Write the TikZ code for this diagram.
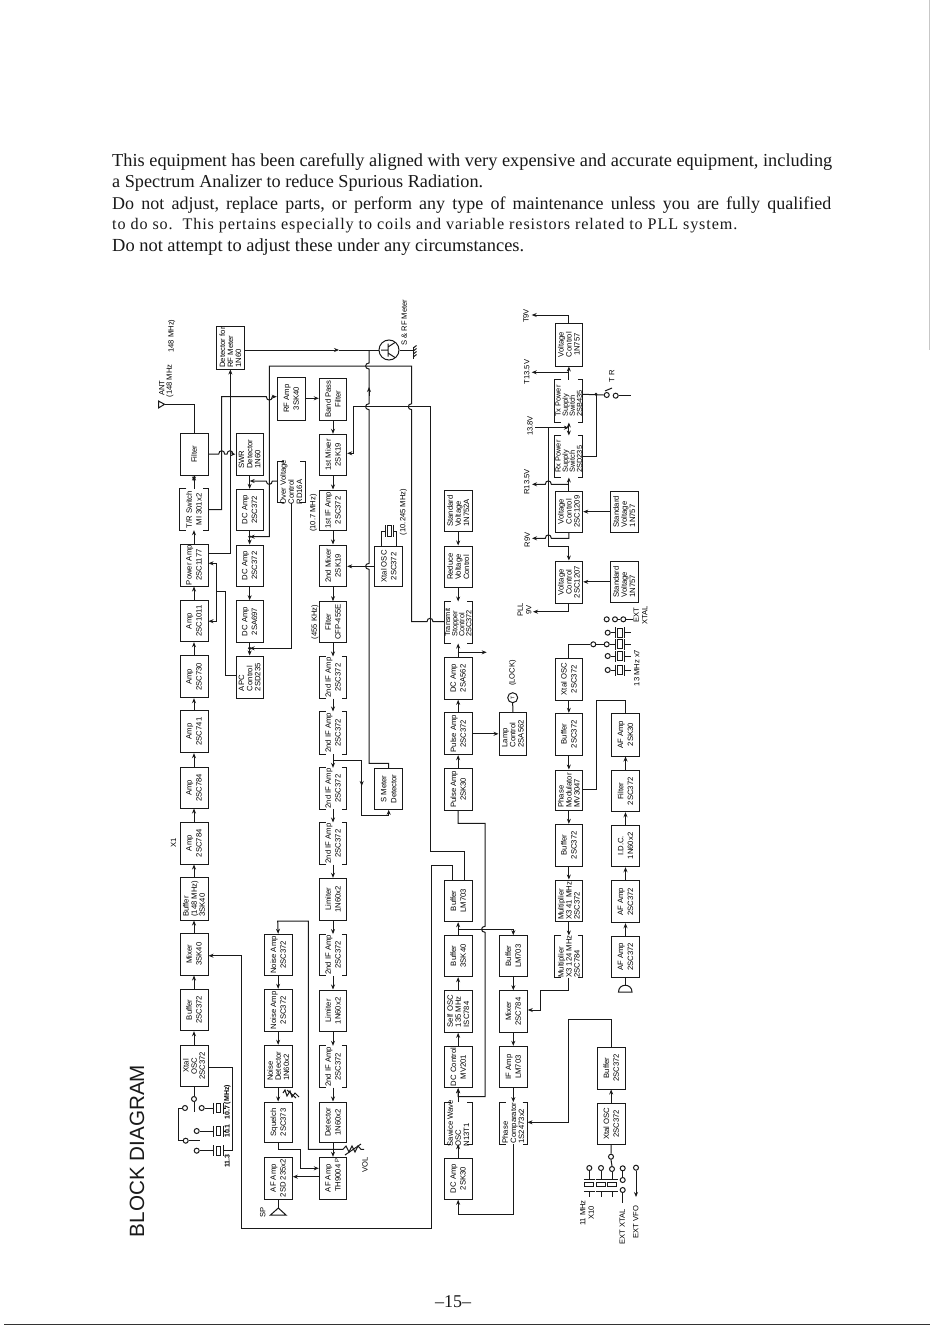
\documentclass[tikz,border=0pt]{standalone}
\usepackage{fontspec}
\usepackage{graphicx}
\setmainfont{Liberation Serif}
\newfontfamily\ars{Liberation Sans}
\usetikzlibrary{arrows.meta}
\tikzset{
  wire/.style={line width=1pt,draw=black!90},
  arr/.style={wire,-{Stealth[length=5pt,width=4pt]}},
  arrb/.style={wire,{Stealth[length=5pt,width=4pt]}-{Stealth[length=5pt,width=4pt]}},
  boxn/.style={draw=black!90,line width=1pt,inner sep=0pt},
  openn/.style={inner sep=0pt},
  boxt/.style={rotate=90,inner sep=0pt,align=center,text=black,font=\ars\fontsize{7.7}{9.8}\selectfont},
  th/.style={font=\ars\fontsize{7.7}{8.1}\selectfont},
  fo/.style={font=\ars\fontsize{7.4}{7.1}\selectfont},
  lbl/.style={rotate=90,inner sep=0pt,align=center,text=black,font=\ars\fontsize{7.6}{8.4}\selectfont},
  sw/.style={circle,draw=black!90,line width=1pt,fill=white,inner sep=0pt,minimum size=5pt},
  hdr/.style={anchor=west,inner sep=0pt,text=black!90},
}
% closed box: name, x0, x1, y0, y1, text
\newcommand{\bk}[7][]{%
  \node[boxn,minimum width={(#4-#3)*1pt},minimum height={(#6-#5)*1pt}] (#2) at ({(#3+#4)/2},{(#5+#6)/2}) {};
  \node[boxt,#1] (#2-t) at (#2.center) {#7};}
% box with gaps in its short edges
\newcommand{\ob}[7][]{%
  \node[openn,minimum width={(#4-#3)*1pt},minimum height={(#6-#5)*1pt}] (#2) at ({(#3+#4)/2},{(#5+#6)/2}) {};
  \draw[wire] ([xshift=6.5pt]#2.north west) -- (#2.north west) -- (#2.south west) -- ([xshift=6.5pt]#2.south west);
  \draw[wire] ([xshift=-5pt]#2.north east) -- (#2.north east) -- (#2.south east) -- ([xshift=-5pt]#2.south east);
  \node[boxt,#1] (#2-t) at (#2.center) {#7};}
% hops: x, y, signed half width, signed bulge
\newcommand{\hopH}[4]{-- ({#1-#3},#2) .. controls ({#1-#3},{#2+#4}) and ({#1+#3},{#2+#4}) .. ({#1+#3},#2) }
\newcommand{\hopV}[4]{-- (#1,{#2-#3}) .. controls ({#1+#4},{#2-#3}) and ({#1+#4},{#2+#3}) .. (#1,{#2+#3}) }
% crystal lying across a horizontal wire: circle, y, plate1, boxL, boxR, plate2, end
\newcommand{\xtH}[7]{%
  \draw[wire] (#1.east) -- (#3,#2) (#3,{#2-5.5}) -- (#3,{#2+5.5}) (#6,{#2-5.5}) -- (#6,{#2+5.5}) (#6,#2) -- (#7,#2);
  \draw[wire] (#4,{#2-4.5}) rectangle (#5,{#2+4.5});}
% crystal across a vertical wire: circle, x
\newcommand{\xtV}[2]{%
  \draw[wire] (#1.south) -- (#2,1179.3) ({#2-5.5},1179.3) -- ({#2+5.5},1179.3) ({#2-5.5},1191.7) -- ({#2+5.5},1191.7) (#2,1191.7) -- (#2,1196.7);
  \draw[wire] ({#2-4.5},1182.7) rectangle ({#2+4.5},1186.7);}
\begin{document}
\begin{tikzpicture}[x=1pt,y=-1pt]
\useasboundingbox (0,0) rectangle (950,1329);
\fill[white] (0,0) rectangle (950,1329);
% page edges
\coordinate (re0) at (929,0);
\coordinate (re1) at (929,350);
\draw[black!22,line width=0.7pt] (re0) -- (re1);
\coordinate (be0) at (4,1324.5);
\coordinate (be1) at (930,1324.5);
\draw[black!80,line width=1.1pt] (be0) -- (be1);
% header
\node[hdr] (h1) at (112,162.5) {\resizebox{720pt}{!}{\fontsize{17}{20}\selectfont This equipment has been carefully aligned with very expensive and accurate equipment, including}};
\node[hdr] (h2) at (112,183.5) {\resizebox{371pt}{!}{\fontsize{17}{20}\selectfont a Spectrum Analizer to reduce Spurious Radiation.}};
\node[hdr] (h3) at (112,205.5) {\resizebox{719pt}{!}{\fontsize{16.5}{20}\selectfont\spaceskip=6.6pt Do not adjust, replace parts, or perform any type of maintenance unless you are fully qualified}};
\node[hdr] (h4) at (112,225.5) {\resizebox{625pt}{!}{\fontsize{14}{20}\selectfont\addfontfeature{LetterSpace=5.5} to do so.\ \ This pertains especially to coils and variable resistors related to PLL system.}};
\node[hdr] (h5) at (112,247.5) {\resizebox{412pt}{!}{\fontsize{17}{20}\selectfont Do not attempt to adjust these under any circumstances.}};
\node[rotate=90,inner sep=0pt,text=black!90] (title) at (137,1151) {\resizebox{172pt}{!}{\ars\fontsize{20.5}{22}\selectfont BLOCK DIAGRAM}};
\node[inner sep=0pt,text=black!90] (pg) at (453,1302) {\fontsize{18}{20}\selectfont --15--};
% column A
\bk[align=left,th]{det}{216.7}{244}{326}{369}{Detector for\\RF Meter\\1N60}
\bk{filt}{180}{208}{433.3}{475}{Filter}
\ob{tr}{180}{208}{489}{530}{T/R Switch\\MI 301x2}
\bk{pwr}{180}{208}{544.3}{586}{Power Amp\\2SC1177}
\bk{a1011}{180}{208}{600.7}{641.7}{Amp\\2SC1011}
\bk{a730}{180}{208}{655.7}{697.7}{Amp\\2SC730}
\bk{a741}{180}{208}{710.3}{752.7}{Amp\\2SC741}
\bk{a784a}{180}{208}{767.3}{808}{Amp\\2SC784}
\bk{a784b}{180}{208}{822.3}{864}{Amp\\2SC784}
\bk[align=left,th]{buf148}{180}{208}{877.7}{920}{Buffer\\(148 MHz)\\3SK40}
\bk{mix}{180}{208}{933.3}{975}{Mixer\\3SK40}
\bk{buf372}{180}{208}{989}{1030.7}{Buffer\\2SC372}
\bk[th]{xo1}{180}{208}{1045}{1086.7}{Xtal\\OSC\\2SC372}
% column B
\bk[align=left,th]{swr}{236}{263.3}{433.3}{475}{SWR\\Detector\\1N60}
\bk{dc1}{236}{263.3}{489.3}{530}{DC Amp\\2SC372}
\bk{dc2}{236}{263.3}{545}{586}{DC Amp\\2SC372}
\bk{dc3}{236}{263.3}{600.7}{642.3}{DC Amp\\2SA697}
\bk[align=left,th]{apc}{236}{263.3}{656}{698.3}{APC\\Control\\2SD235}
\ob[align=left,th]{ovc}{277.3}{305}{461.7}{502.7}{Over Voltage\\Control\\RD16A}
\bk{rf}{277.3}{305.3}{377.3}{420}{RF Amp\\3SK40}
% IF column
\bk{bpf}{319.3}{346.7}{378}{420}{Band Pass\\Filter}
\bk{m1}{319.3}{346.7}{434.3}{475.3}{1st Mixer\\2SK19}
\bk{if1}{319.3}{346.7}{490}{530.7}{1st IF Amp\\2SC372}
\bk{m2}{319.3}{346.7}{545}{586.7}{2nd Mixer\\2SK19}
\bk{f455}{319.3}{346.7}{601.7}{642.3}{Filter\\CFP-455E}
\ob{i1}{319.3}{346.7}{656.7}{698.3}{2nd IF Amp\\2SC372}
\ob{i2}{319.3}{346.7}{711.7}{754}{2nd IF Amp\\2SC372}
\ob{i3}{319.3}{346.7}{768}{809}{2nd IF Amp\\2SC372}
\ob{i4}{319.3}{346.7}{822.7}{864.3}{2nd IF Amp\\2SC372}
\bk{lim1}{319.3}{346.7}{878.3}{920}{Limiter\\1N60x2}
\ob{i5}{319.3}{346.7}{934.3}{975.7}{2nd IF Amp\\2SC372}
\bk{lim2}{319.3}{346.7}{990}{1031.7}{Limiter\\1N60x2}
\ob{i6}{319.3}{346.7}{1046}{1087.3}{2nd IF Amp\\2SC372}
\bk{detc}{319.3}{346.7}{1102}{1142.7}{Detector\\1N60x2}
\bk{aft}{319.3}{346.7}{1157.3}{1199}{AF Amp\\TH9004}
% noise column
\bk{na1}{264}{292.3}{934.3}{975.7}{Noise Amp\\2SC372}
\bk{na2}{264}{292.3}{989.3}{1031.3}{Noise Amp\\2SC372}
\bk[align=left,th]{nd}{264}{292.3}{1045.3}{1087.3}{Noise\\Detector\\1N60x2}
\bk{sq}{264}{292.3}{1102}{1142.7}{Squelch\\2SC373}
\bk{afd}{264}{292.3}{1157.3}{1199}{AF Amp\\2SD 235x2}
\bk{xo2}{374.7}{402.7}{546}{586.7}{Xtal OSC\\2SC372}
\bk{smd}{374.7}{402.7}{768.7}{809.3}{S Meter\\Detector}
% column C
\bk[align=left,th]{sv1}{444.3}{472}{490.7}{531.7}{Standard\\Voltage\\1N752A}
\bk[align=left,th]{rv}{444.3}{472}{546}{587.3}{Reduce\\Voltage\\Control}
\ob[align=left,fo]{tsc}{444.3}{472}{601.7}{643.3}{Transmit\\Stopper\\Control\\2SC372}
\bk{dca}{444.3}{472}{657.3}{699.3}{DC Amp\\2SA562}
\bk{pa1}{444.3}{472}{712.7}{754.7}{Pulse Amp\\2SC372}
\bk{pa2}{444.3}{472}{768.7}{810}{Pulse Amp\\2SK30}
\bk{bl1}{444.3}{472}{880}{921.7}{Buffer\\LM703}
\bk{b3}{444.3}{472}{935}{976.7}{Buffer\\3SK40}
\bk[align=left,th]{so}{444.3}{472}{990}{1032.3}{Self OSC\\135 MHz\\ISC784}
\bk{dcc}{444.3}{472}{1046.3}{1087.7}{DC Control\\MV201}
\ob[align=left,th]{saw}{444.3}{472}{1102.3}{1144}{Sawice Wave\\OSC\\N13T1}
\bk{dck}{444.3}{472}{1158}{1199.3}{DC Amp\\2SK30}
\bk[align=left,th]{lamp}{499}{526.7}{712.3}{755.3}{Lamp\\Control\\2SA562}
% column F
\bk{bl2}{499.3}{527.3}{935.7}{976.7}{Buffer\\LM703}
\bk{mxf}{499.3}{527.3}{990.7}{1032.3}{Mixer\\2SC784}
\bk{ifl}{499.3}{527.3}{1046.3}{1087.7}{IF Amp\\LM703}
\ob[align=left,th]{pc}{499.3}{527.3}{1102.3}{1144}{Phase\\Comparator\\1S2473x2}
% column D
\bk[th]{vc1}{555}{582.7}{323.3}{366}{Voltage\\Control\\1N757}
\ob[align=left,fo]{txs}{555}{582.7}{380}{422.3}{Tx Power\\Supply\\Switch\\2SB435}
\ob[align=left,fo]{rxs}{555}{582.7}{435.7}{477.3}{Rx Power\\Supply\\Switch\\2SD235}
\bk[th]{vc2}{555}{582.7}{491}{532.3}{Voltage\\Control\\2SC1209}
\bk[th]{vc3}{555}{582.7}{561}{603.3}{Voltage\\Control\\2SC1207}
\bk{xo3}{555}{582.7}{658.3}{700}{Xtal OSC\\2SC372}
\bk{bd1}{555}{582.7}{713.3}{755}{Buffer\\2SC372}
\bk[align=left,th]{pm}{555}{582.7}{770}{810.7}{Phase\\Modulator\\MV3047}
\bk{bd2}{555}{582.7}{824.3}{866}{Buffer\\2SC372}
\bk[align=left,th]{mu1}{555}{582.7}{880}{921.7}{Multiplier\\X3 41 MHz\\2SC372}
\ob[align=left,th]{mu2}{555}{582.7}{935.7}{977.3}{Multiplier\\X3 124 MHz\\2SC784}
% column E
\bk[align=left,th]{sv2}{610}{638.3}{491}{532.3}{Standard\\Voltage\\1N757}
\bk[align=left,th]{sv3}{610}{638.3}{561}{602.7}{Standard\\Voltage\\1N757}
\bk{af1}{611.7}{639.3}{713.3}{756}{AF Amp\\2SK30}
\bk{fl}{611.7}{639.3}{770.7}{811.7}{Filter\\2SC372}
\bk{idc}{611.7}{639.3}{825}{866.7}{I.D.C.\\1N60x2}
\bk{af2}{611.7}{639.3}{880.7}{922.7}{AF Amp\\2SC372}
\bk{af3}{611.7}{639.3}{936}{977.3}{AF Amp\\2SC372}
% column G
\bk{bg}{597.3}{625}{1047}{1089}{Buffer\\2SC372}
\bk{xg}{597.3}{625}{1103.3}{1144.3}{Xtal OSC\\2SC372}
% chains
\foreach \a/\b in {tr/filt,pwr/tr,a1011/pwr,a730/a1011,a741/a730,a784a/a741,a784b/a784a,buf148/a784b,mix/buf148,buf372/mix,xo1/buf372,
  dca/tsc,pa1/dca,pa2/pa1,b3/bl1,so/b3,dcc/so,saw/dcc,dck/saw,xg/bg,vc2/rxs,txs/vc1,af3/af2,af2/idc,idc/fl,fl/af1}
  \draw[arr] (\a.north) -- (\a.north |- \b.south);
\foreach \a/\b in {bpf/m1,m1/if1,if1/m2,m2/f455,f455/i1,i1/i2,i2/i3,i3/i4,i4/lim1,lim1/i5,i5/lim2,lim2/i6,i6/detc,detc/aft,
  swr/dc1,dc1/dc2,dc2/dc3,dc3/apc,na1/na2,na2/nd,nd/sq,sv1/rv,rv/tsc,bl2/mxf,mxf/ifl,ifl/pc,xo3/bd1,bd1/pm,pm/bd2,bd2/mu1,mu1/mu2}
  \draw[arr] (\a.south) -- (\a.south |- \b.north);
\draw[arr] (filt.south) -- ++(0,6);
% antenna
\coordinate (antc) at (164.5,404.3);
\draw[wire] (filt.north) |- (antc);
\draw[wire] (antc) -- (158.5,401) -- (158.5,408) -- cycle;
\node[lbl] (lant) at (161.7,388) {ANT};
\node[lbl] (lant2) at (170,381) {(148 MHz};
\node[lbl] (lant3) at (171.7,336) {148 MHz)};
\node[lbl] (lx1) at (173.5,843) {X1};
% top group
\draw[arr] (filt.east) \hopH{221.7}{454.15}{3}{-4.5} \hopH{230}{454.15}{3}{-4.5} -- (swr.west);
\draw[arr] (tr.east) -| (221.7,396.7) \hopH{269.3}{396.7}{3}{4.5} -- (rf.west |- 0,396.7);
\draw[arr] (pwr.east |- 0,553.3) -| (det.south);
\draw[arr] (rf.east |- 0,398.3) -- (bpf.west |- 0,398.3);
\coordinate (j1) at (dc1.south |- 0,536.7);
\draw[arr] (tsc.west |- 0,621.7) \hopH{430}{621.7}{-3}{-4.5} -- (411.7,621.7) \hopV{411.7}{406.7}{-3}{-4.5} -- (411.7,366) -- (269.3,366) -- (269.3,536.7) -- (j1);
\fill[black!90] (j1) circle[radius=1.6pt];
\draw[arr] (bl1.north -| 464,0) -- (464,851) -- (430,851) -- (430,406.7) -- (353.3,406.7) -- (353.3,453.3) -- (m1.east |- 0,453.3);
\draw[arr] (ovc.west |- 0,481) \hopH{269.3}{481}{-3}{4.5} -- (swr.south |- 0,481);
\draw[arr] (ovc.south) -- (ovc.south |- 0,648.3) -- (dc3.south |- 0,648.3);
\fill[black!90] (dc3.south |- 0,648.3) circle[radius=1.8pt];
\draw[arrb] (pwr.east |- 0,563.3) -- (216.7,563.3) -- (216.7,621.2) -- (a1011.east);
\draw[wire] (apc.west |- 0,675) -| (225,591.7) -- (216.7,591.7);
% meter
\node[draw=black!90,line width=1pt,circle,minimum size=20pt,inner sep=0pt] (meter) at (389,350) {};
\draw[arr] (det.east |- 0,350) -- (339,350);
\draw[wire] (339,350) -- (meter.west);
\draw[wire] (smd.north) -- (smd.north |- 0,763.3) -- (369,763.3) \hopV{369}{566.35}{-3}{-4.5} \hopV{369}{406.7}{-3}{-4.5} \hopV{369}{366}{-3}{-4.5} -- (369,350);
\draw[arr] (369,396) -- (369,387);
\draw[wire] (381,350) -- (388,350) (388,343.5) -- (388,356.5) (388,347) -- (395,342.5) (388,353) -- (395,357.5);
\draw[wire] (meter.east) -- (413.3,350);
\draw[wire] (413.3,346.5) -- (413.3,358.5);
\draw[wire] (413.3,348) -- (416.5,345.5) (413.3,351) -- (416.5,348.5) (413.3,354) -- (416.5,351.5) (413.3,357) -- (416.5,354.5);
\node[lbl] (lmeter) at (404.3,322.7) {S \& RF Meter};
% 2nd xtal
\draw[arr] (xo2.west) -- (xo2.west -| m2.east);
\draw[wire] (381.7,546) -- (381.7,531) -- (385,531) (396.7,546) -- (396.7,531) -- (393,531);
\draw[wire] (385,525) -- (385,537) (393,525) -- (393,537);
\draw[wire] (387,525.5) rectangle (391,536.5);
\node[lbl] (l1024) at (403.3,512) {(10.245 MHz)};
\node[lbl] (l107) at (313.3,513) {(10.7 MHz)};
\node[lbl] (l455) at (315,622) {(455 KHz)};
% s meter loop
\coordinate (j2) at (333,760);
\draw[arr] (j2) -- (361.7,760) -- (361.7,815) -- (smd.south |- 0,815) -- (smd.south);
\draw[arr] (361.7,780) -- (361.7,786);
% lower left
\draw[arr] (bl1.north -| 452.3,0) -- (452.3,865) -- (431.7,865) -- (431.7,1228.3) -- (241.7,1228.3) -- (241.7,955.7) -- (mix.east |- 0,955.7);
% af
\draw[arr] (sq.south) -- (sq.south |- 0,1149.3) -- (300,1149.3) -- (300,1168.3) -- (aft.west |- 0,1168.3);
\draw[arr] (aft.west |- 0,1176.7) -- (afd.east |- 0,1176.7);
\coordinate (vr) at (343,1149.3);
\draw[arr] (vr) -- (308.3,1149.3) -- (308.3,921) -- (277.7,921) -- (na1.north);
\draw[wire] (343,1149.3) -- (346,1146) -- (349,1152) -- (352,1146) -- (355,1152) -- (358,1146) -- (361,1149.3) -- (364,1149.3);
\draw[wire] (345,1155) -- (361,1144);
\node[lbl] (lvol) at (365,1165) {VOL};
\node[lbl,font=\ars\fontsize{6}{7}\selectfont] (lp) at (337,1160.5) {P};
\draw[wire] (283,1093) -- (285,1090) -- (287,1096) -- (290,1091) -- (292,1097) -- (295,1093) -- (299,1097);
\draw[wire] (287,1090) -- (296,1098);
\coordinate (spc) at (278.3,1208);
\draw[wire] (afd.south) -- (afd.south |- spc);
\draw[wire] (spc) -- (270.5,1215) -- (286,1215) -- cycle;
\node[lbl] (lsp) at (262.7,1212) {SP};
% left xtal switch
\node[sw] (s0) at (194,1099) {};
\node[sw] (s1) at (185,1108) {};
\node[sw] (s2) at (201.7,1108) {};
\node[sw] (s3) at (196.7,1131) {};
\node[sw] (s4) at (185.7,1140.7) {};
\node[sw] (s5) at (196.7,1150.7) {};
\draw[wire] (xo1.south) -- (s0.north);
\draw[wire] (s0.south) -- (194,1111.7);
\draw[wire] (s1.west) -- (178.3,1108) -- (178.3,1140.7) -- (s4.west);
\draw[wire] (s4.east) -- (200,1140.7);
\xtH{s2}{1108}{213.3}{216}{220}{223}{226}
\xtH{s3}{1131}{213.3}{216}{220}{223}{226}
\xtH{s5}{1150.7}{213.3}{216}{220}{223}{232.3}
\draw[wire] (xo1.east |- 0,1067.7) -- (232.3,1067.7) -- (232.3,1150.7);
\node[lbl,font=\ars\bfseries\fontsize{7}{8}\selectfont] (lm) at (227.3,1094.5) {(MHz)};
\node[lbl,font=\ars\bfseries\fontsize{7}{8}\selectfont] (l1) at (227.3,1112.5) {10.7};
\node[lbl,font=\ars\bfseries\fontsize{7}{8}\selectfont] (l2) at (227.3,1131) {10.1};
\node[lbl,font=\ars\bfseries\fontsize{7}{8}\selectfont] (l3) at (227.3,1161) {11.3};
% col C / F wiring
\coordinate (j3) at (457.7,652.3);
\draw[arr] (j3) -- (486.7,652.3);
\draw[arr] (pa1.east |- lamp.west) -- (lamp.west);
\node[draw=black!90,line width=1pt,circle,minimum size=10pt,inner sep=0pt] (lockc) at (512.7,697.7) {};
\node[lbl,font=\ars\fontsize{5}{6}\selectfont] (lockt) at (lockc.center) {T};
\draw[wire] (lamp.north) -- (lockc.south);
\node[lbl] (llock) at (512.7,673) {(LOCK)};
\draw[arr] (pa2.south) -- (pa2.south |- 0,823.3) -- (485,823.3) \hopV{485}{929.3}{3}{-4.5} -- (485,1096.7) -- (dcc.south |- 0,1096.7) -- (dcc.south);
\coordinate (j4) at (457.7,929.3);
\draw[arr] (j4) -- (bl2.north |- 0,929.3) -- (bl2.north);
\draw[arr] (pc.south) -- (pc.south |- 0,1214) -- (dck.south |- 0,1214) -- (dck.south);
\draw[arr] (mu2.south) -- (mu2.south |- 0,990) -- (540.7,990) -- (540.7,1010) -- (mxf.east |- 0,1010);
\draw[arr] (bg.north) -- (bg.north |- 0,1019) -- (568.3,1019) -- (568.3,1122.3) -- (pc.east |- 0,1122.3);
% power section
\coordinate (t9) at (531.7,315);
\draw[arr] (vc1.north) |- (t9);
\node[lbl] (lt9) at (526,316) {T9V};
\coordinate (t13) at (531.7,372.3);
\draw[arr] (vc1.south |- 0,372.3) -- (t13);
\node[lbl] (lt13) at (526.7,372) {T13.5V};
\node[lbl] (l138) at (530,426) {13.8V};
\draw[arr] (535,427.7) -- (txs.south |- 0,427.7);
\draw[arr] (rxs.north |- 0,427.7) -- (rxs.north);
\draw[arr] (rxs.north |- 0,427.7) -- (txs.south);
\coordinate (r13) at (532,484.3);
\draw[arr] (vc2.north |- 0,484.3) \hopH{548.3}{484.3}{-3}{-4.5} -- (r13);
\node[lbl] (lr13) at (526.7,482) {R13.5V};
\coordinate (r9) at (532,538.3);
\draw[arr] (vc2.south) -- (vc2.south |- 0,538.3) \hopH{548.3}{538.3}{-3}{-4.5} -- (r9);
\node[lbl] (lr9) at (527.3,540) {R9V};
\draw[arr] (548.3,427.7) -- (548.3,546.7) -- (vc3.north |- 0,546.7) -- (vc3.north);
\coordinate (p9) at (533,611.7);
\draw[arr] (vc3.south) -- (vc3.south |- 0,611.7) -- (p9);
\node[lbl] (lpll) at (524.5,610) {PLL\\9V};
\draw[arr] (sv2.west) -- (sv2.west -| vc2.east);
\draw[arr] (sv3.west) -- (sv3.west -| vc3.east);
\node[sw] (ts1) at (606.7,395) {};
\node[sw] (ts2) at (615.7,395.7) {};
\draw[wire] (txs.east |- 0,394.3) -- (ts1.west);
\draw[wire] (ts2.east) -- (630.7,395.7);
\draw[wire] (605,391) -- (612,388);
\draw[wire] (rxs.east |- 0,456.7) -- (596,456.7) -- (596,394.3);
\fill[black!90] (596,394.3) circle[radius=1.6pt];
\node[lbl] (ltr) at (611.7,376) {T R};
% 13 MHz crystal group
\node[sw] (sw0) at (593.3,644.3) {};
\node[sw] (c1) at (607.7,632.7) {};
\node[sw] (c2) at (606.7,644.3) {};
\node[sw] (c3) at (607.7,656) {};
\node[sw] (c4) at (607.7,670) {};
\draw[wire] (xo3.north) |- (sw0.west);
\draw[wire] (sw0.east) -- (c2.west);
\xtH{c1}{632.7}{615}{617}{622.7}{624}{631}
\xtH{c2}{644.3}{615}{617}{622.7}{624}{631}
\xtH{c3}{656}{615}{617}{622.7}{624}{631}
\xtH{c4}{670}{615}{617}{622.7}{624}{631}
\node[sw] (e1) at (606.7,619.3) {};
\node[sw] (e2) at (615,619.3) {};
\node[sw] (e3) at (623.3,619.3) {};
\draw[wire] (e2.east) -- (e3.west);
\draw[wire] (e3.east) -- (633.3,619.3);
\node[lbl] (lext) at (640.5,615) {EXT\\XTAL};
\node[lbl] (l13) at (636.7,668) {13 MHz x7};
% phase modulator to AF
\draw[wire] (pm.east |- 0,789) -- (596.7,789) -- (596.7,700) -- (af1.north |- 0,700) -- (af1.north);
% mic
\draw[wire] (af3.south) -- (af3.south |- 0,985);
\draw[wire] (618.5,992) .. controls (618.5,983) and (632,983) .. (632,992) -- cycle;
% bottom crystals
\node[sw] (g0) at (611,1156.7) {};
\node[sw] (g1) at (589.3,1168) {};
\node[sw] (g2) at (601,1168) {};
\node[sw] (g3) at (612,1169) {};
\draw[wire] (xg.south |- 0,1144.3) -- (g0.north);
\draw[wire] (g0.south) -- (g3.north);
\xtV{g1}{589.3}
\xtV{g2}{601}
\xtV{g3}{612}
\node[sw] (x1) at (622.7,1168.3) {};
\node[sw] (x2) at (622.7,1180) {};
\node[sw] (x3) at (622.7,1190) {};
\draw[wire] (x1.south) -- (x2.north);
\coordinate (xe) at (622.7,1203);
\draw[wire] (x3.south) -- (xe);
\node[lbl] (lxx) at (622.3,1227) {EXT XTAL};
\node[sw] (v1) at (636,1167.7) {};
\coordinate (ve) at (636,1197);
\draw[arr] (v1.south) -- (ve);
\node[lbl] (lvfo) at (635.7,1222) {EXT VFO};
\node[lbl] (l11) at (587,1213) {11 MHz\\X10};
\end{tikzpicture}
\end{document}
